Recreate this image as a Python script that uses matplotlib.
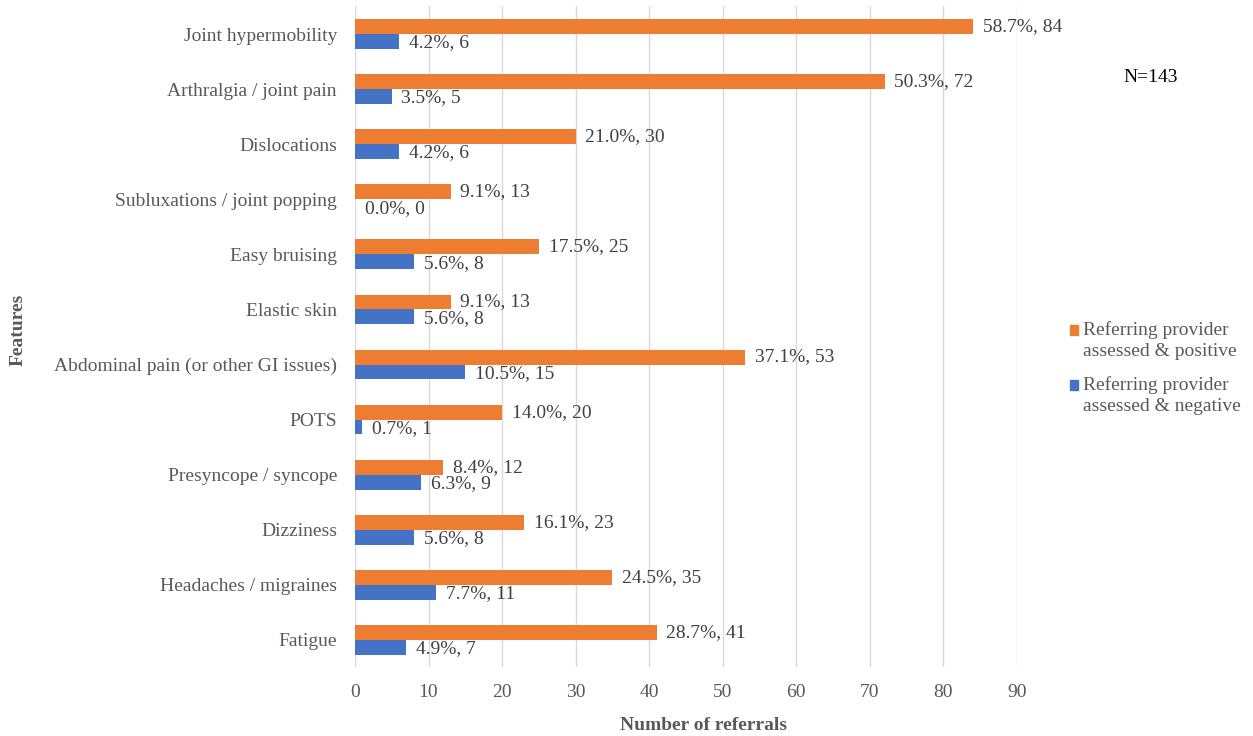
import matplotlib
matplotlib.use("Agg")
import matplotlib.pyplot as plt
from matplotlib.patches import Rectangle
import numpy as np

features = [
    "Joint hypermobility",
    "Arthralgia / joint pain",
    "Dislocations",
    "Subluxations / joint popping",
    "Easy bruising",
    "Elastic skin",
    "Abdominal pain (or other GI issues)",
    "POTS",
    "Presyncope / syncope",
    "Dizziness",
    "Headaches / migraines",
    "Fatigue",
]
positive = [84, 72, 30, 13, 25, 13, 53, 20, 12, 23, 35, 41]
negative = [6, 5, 6, 0, 8, 8, 15, 1, 9, 8, 11, 7]
total_n = 143
series_names = ["Referring provider\nassessed & positive",
                "Referring provider\nassessed & negative"]
x_ticks = list(range(0, 100, 10))

plt.rcParams["font.family"] = ["Liberation Serif", "DejaVu Serif"]
text_grey = "#595959"
label_grey = "#404040"
orange = "#ED7D31"
blue = "#4472C4"
fs = 14

W, H = 1253, 736
fig = plt.figure(figsize=(W / 100, H / 100), dpi=100)
ax = fig.add_axes([0.2833, 0.0931, 0.5283, 0.8981])

n = len(features)
y = np.arange(n)
h = 0.27
ax.barh(y - h / 2, positive, height=h, color=orange, zorder=3)
ax.barh(y + h / 2, negative, height=h, color=blue, zorder=3)

for yy, v in zip(y, positive):
    ax.annotate(f"{v / total_n * 100:.1f}%, {v}", (v, yy - h / 2), xytext=(7, 0),
                textcoords="offset points", va="center", ha="left",
                fontsize=fs, color=label_grey)
for yy, v in zip(y, negative):
    ax.annotate(f"{v / total_n * 100:.1f}%, {v}", (v, yy + h / 2), xytext=(7, -1),
                textcoords="offset points", va="center", ha="left",
                fontsize=fs, color=label_grey)

ax.set_ylim(n - 0.5, -0.5)
ax.set_xlim(0, 90)
ax.set_xticks(x_ticks)
ax.set_yticks(y)
ax.set_yticklabels(features)
ax.tick_params(axis="both", length=0, labelsize=fs, labelcolor=text_grey)
ax.tick_params(axis="x", pad=12)
ax.tick_params(axis="y", pad=13)
ax.grid(axis="x", color="#d9d9d9", linewidth=1, zorder=0)
for s in ax.spines.values():
    s.set_visible(False)

fig.text(703 / W, 1 - 725 / H, "Number of referrals", fontsize=fs, fontweight="bold",
         color=text_grey, ha="center", va="center")
fig.text(18 / W, 1 - 330 / H, "Features", rotation=90, fontsize=fs, fontweight="bold",
         color=text_grey, ha="center", va="center")

fig.text(1151 / W, 1 - 77 / H, f"N={total_n}", fontsize=fs, color="#000000",
         ha="center", va="center")

# legend: square marker aligned with the first line of each two-line entry
legend_rows = [(orange, 330), (blue, 385)]
for (col, y_px), name in zip(legend_rows, series_names):
    fig.patches.append(Rectangle((1070 / W, 1 - (y_px + 5) / H), 8 / W, 10 / H,
                                 transform=fig.transFigure, color=col))
    fig.text(1083 / W, 1 - (y_px - 9) / H, name, fontsize=fs, color=text_grey,
             ha="left", va="top", linespacing=1.3)

fig.savefig("out.png", dpi=100)
